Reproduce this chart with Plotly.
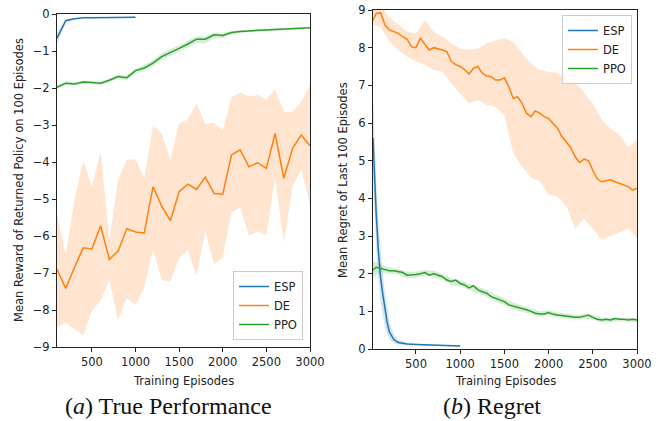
import plotly.graph_objects as go

# ---------------- Data: (a) True Performance ----------------
perf_x_esp = [100, 200, 300, 400, 500, 600, 700, 800, 900, 1000]
perf_esp = [-0.65, -0.18, -0.13, -0.10, -0.10, -0.10, -0.09, -0.09, -0.09, -0.09]
perf_esp_hi = [-0.50, -0.15, -0.11, -0.09, -0.09, -0.09, -0.08, -0.08, -0.08, -0.08]
perf_esp_lo = [-0.82, -0.22, -0.15, -0.11, -0.11, -0.11, -0.10, -0.10, -0.10, -0.10]

perf_x = [100, 200, 300, 400, 500, 600, 700, 800, 900, 1000,
          1100, 1200, 1300, 1400, 1500, 1600, 1700, 1800, 1900, 2000,
          2100, 2200, 2300, 2400, 2500, 2600, 2700, 2800, 2900, 3000]
perf_de = [-6.90, -7.42, -6.85, -6.32, -6.35, -5.73, -6.63, -6.41, -5.80, -5.89,
           -5.92, -4.67, -5.19, -5.59, -4.80, -4.60, -4.74, -4.41, -4.85, -4.87,
           -3.81, -3.67, -4.13, -4.02, -4.17, -3.23, -4.44, -3.63, -3.27, -3.56]
perf_de_hi = [-5.39, -6.51, -5.03, -3.96, -4.67, -3.72, -6.11, -4.49, -3.93, -3.93,
              -4.44, -3.03, -3.23, -3.95, -2.95, -2.85, -2.41, -2.97, -2.94, -3.15,
              -2.25, -2.12, -2.23, -2.19, -2.31, -2.04, -2.64, -2.64, -2.37, -1.92]
perf_de_lo = [-8.47, -8.34, -8.52, -8.68, -8.03, -7.75, -7.19, -8.27, -7.67, -7.87,
              -7.39, -6.36, -7.19, -7.23, -6.60, -6.38, -7.08, -5.86, -6.76, -6.58,
              -5.37, -5.23, -5.99, -5.88, -5.97, -4.44, -6.18, -4.65, -4.20, -5.16]
perf_ppo = [-1.98, -1.87, -1.89, -1.84, -1.85, -1.87, -1.79, -1.69, -1.72, -1.53,
            -1.46, -1.33, -1.15, -1.05, -0.93, -0.81, -0.68, -0.68, -0.56, -0.58,
            -0.50, -0.47, -0.45, -0.44, -0.43, -0.42, -0.41, -0.40, -0.39, -0.37]
perf_ppo_hi = [-1.93, -1.82, -1.85, -1.80, -1.81, -1.83, -1.74, -1.64, -1.66, -1.47,
               -1.38, -1.24, -1.06, -0.96, -0.84, -0.72, -0.60, -0.60, -0.50, -0.52,
               -0.46, -0.44, -0.42, -0.41, -0.40, -0.39, -0.38, -0.37, -0.36, -0.35]
perf_ppo_lo = [-2.03, -1.92, -1.93, -1.88, -1.89, -1.91, -1.84, -1.74, -1.80, -1.60,
               -1.54, -1.42, -1.24, -1.14, -1.02, -0.90, -0.78, -0.80, -0.64, -0.65,
               -0.56, -0.51, -0.49, -0.47, -0.46, -0.45, -0.44, -0.43, -0.42, -0.39]

# ---------------- Data: (b) Regret ----------------
reg_x = [14, 50, 100, 150, 200, 250, 300, 350, 400, 450, 500, 550, 600, 650, 700,
         750, 800, 850, 900, 950, 1000, 1050, 1100, 1150, 1200, 1250, 1300, 1350,
         1400, 1450, 1500, 1550, 1600, 1650, 1700, 1750, 1800, 1850, 1900, 1950,
         2000, 2050, 2100, 2150, 2200, 2250, 2300, 2350, 2400, 2450, 2500, 2550,
         2600, 2650, 2700, 2750, 2800, 2850, 2900, 2950, 3000]
reg_de = [8.73, 8.91, 8.93, 8.60, 8.47, 8.42, 8.38, 8.29, 8.22, 8.02, 8.00, 8.25,
          8.11, 7.94, 8.00, 7.98, 7.94, 7.89, 7.63, 7.55, 7.50, 7.42, 7.30, 7.45,
          7.50, 7.32, 7.25, 7.23, 7.14, 7.14, 7.20, 6.96, 6.65, 6.70, 6.52, 6.26,
          6.17, 6.32, 6.26, 6.17, 6.12, 5.99, 5.86, 5.64, 5.50, 5.35, 5.11, 4.95,
          5.04, 5.00, 4.75, 4.52, 4.44, 4.46, 4.49, 4.44, 4.40, 4.35, 4.31, 4.22, 4.26]
reg_ppo = [2.10, 2.17, 2.14, 2.12, 2.08, 2.08, 2.05, 2.03, 1.96, 1.96, 1.98, 2.00,
           2.03, 1.96, 2.00, 1.96, 1.92, 1.83, 1.79, 1.83, 1.74, 1.70, 1.62, 1.68,
           1.57, 1.52, 1.48, 1.39, 1.35, 1.32, 1.26, 1.17, 1.14, 1.12, 1.08, 1.04,
           1.00, 0.95, 0.93, 0.93, 0.97, 0.92, 0.90, 0.88, 0.88, 0.86, 0.84, 0.84,
           0.86, 0.90, 0.84, 0.79, 0.77, 0.79, 0.77, 0.81, 0.79, 0.79, 0.77, 0.79, 0.77]

band_x = [14, 100, 200, 300, 400, 500, 600, 700, 800, 900, 1000, 1100, 1200, 1300,
          1400, 1500, 1600, 1700, 1800, 1900, 2000, 2100, 2200, 2300, 2400, 2500,
          2600, 2700, 2800, 2900, 3000]
reg_de_hi = [9.30, 9.10, 8.80, 8.60, 8.42, 8.38, 8.73, 8.42, 8.29, 8.11, 7.98, 7.94,
             7.98, 8.11, 8.20, 8.25, 8.16, 7.85, 7.58, 7.41, 7.36, 7.32, 7.15, 7.10,
             6.80, 6.50, 6.10, 5.85, 5.70, 5.35, 5.55]
reg_de_lo = [8.60, 8.55, 8.16, 7.94, 7.76, 7.63, 7.54, 7.41, 7.36, 7.05, 6.79, 6.52,
             6.61, 6.48, 6.43, 6.20, 5.20, 4.84, 4.55, 4.45, 4.10, 4.05, 3.80, 3.20,
             3.45, 3.20, 2.90, 3.00, 3.10, 3.20, 2.95]
reg_ppo_hi = [2.35, 2.25, 2.16, 2.13, 2.05, 2.06, 2.10, 2.08, 2.00, 1.88, 1.82, 1.74,
              1.66, 1.57, 1.44, 1.35, 1.23, 1.16, 1.07, 1.00, 1.03, 0.96, 0.94, 0.90,
              0.92, 0.90, 0.83, 0.83, 0.84, 0.82, 0.82]
reg_ppo_lo = [1.90, 2.03, 2.00, 1.97, 1.87, 1.90, 1.95, 1.92, 1.84, 1.70, 1.66, 1.56,
              1.48, 1.39, 1.26, 1.17, 1.05, 1.00, 0.93, 0.86, 0.91, 0.84, 0.82, 0.78,
              0.80, 0.78, 0.71, 0.71, 0.74, 0.72, 0.72]

reg_x_esp = [14, 30, 50, 75, 100, 125, 150, 175, 200, 250, 300, 400, 500, 600,
             700, 800, 900, 1000]
reg_esp = [5.60, 4.60, 3.60, 2.60, 1.90, 1.45, 1.05, 0.70, 0.45, 0.25, 0.17, 0.13,
           0.12, 0.11, 0.10, 0.10, 0.09, 0.08]
reg_esp_hi = [6.70, 5.50, 4.50, 3.40, 2.60, 2.00, 1.50, 1.05, 0.70, 0.38, 0.23, 0.16,
              0.14, 0.13, 0.12, 0.11, 0.10, 0.09]
reg_esp_lo = [4.50, 3.70, 2.70, 1.90, 1.30, 0.90, 0.60, 0.40, 0.25, 0.15, 0.12, 0.10,
              0.10, 0.09, 0.08, 0.08, 0.07, 0.07]

names = ["ESP", "DE", "PPO"]
colors = ["#1f77b4", "#ff7f0e", "#2ca02c"]
fills = ["rgba(31,119,180,0.2)", "rgba(255,127,14,0.2)", "rgba(44,160,44,0.2)"]

# The page's default 8px body margin is removed by a post script, so the
# figure fills the 667x421 window exactly.
W, H = 667, 421
FONT = "DejaVu Sans"

fig = go.Figure()


def band(x, lo, hi, fill, xa, ya):
    fig.add_trace(go.Scatter(
        x=list(x) + list(x)[::-1], y=list(hi) + list(lo)[::-1],
        fill="toself", fillcolor=fill, line=dict(width=0),
        mode="lines", showlegend=False, hoverinfo="skip", xaxis=xa, yaxis=ya))


def line(x, y, i, xa, ya, leg):
    fig.add_trace(go.Scatter(
        x=x, y=y, mode="lines", name=names[i],
        line=dict(color=colors[i], width=1.5),
        xaxis=xa, yaxis=ya, legend=leg))


# Left panel
band(perf_x_esp, perf_esp_lo, perf_esp_hi, fills[0], "x", "y")
band(perf_x, perf_de_lo, perf_de_hi, fills[1], "x", "y")
band(perf_x, perf_ppo_lo, perf_ppo_hi, fills[2], "x", "y")
line(perf_x_esp, perf_esp, 0, "x", "y", "legend")
line(perf_x, perf_de, 1, "x", "y", "legend")
line(perf_x, perf_ppo, 2, "x", "y", "legend")

# Right panel
band(reg_x_esp, reg_esp_lo, reg_esp_hi, fills[0], "x2", "y2")
band(band_x, reg_de_lo, reg_de_hi, fills[1], "x2", "y2")
band(band_x, reg_ppo_lo, reg_ppo_hi, fills[2], "x2", "y2")
line(reg_x_esp, reg_esp, 0, "x2", "y2", "legend2")
line(reg_x, reg_de, 1, "x2", "y2", "legend2")
line(reg_x, reg_ppo, 2, "x2", "y2", "legend2")


def px_x(p):
    return p / W


def px_y(p):
    return 1 - p / H


axis_common = dict(
    showline=True, linecolor="#222", linewidth=1, mirror=True,
    ticks="outside", ticklen=4, tickcolor="#222", tickwidth=1,
    showgrid=False, zeroline=False, automargin=False,
    ticklabeloverflow="allow",
    tickfont=dict(family=FONT, size=11.5, color="#222"),
)

fig.update_layout(
    width=W, height=H,
    margin=dict(l=0, r=0, t=0, b=0, autoexpand=False),
    paper_bgcolor="white", plot_bgcolor="white",
    font=dict(family=FONT, size=11.5, color="#222"),
    xaxis=dict(domain=[px_x(57), px_x(310)], range=[100, 3000],
               tickvals=[500, 1000, 1500, 2000, 2500, 3000], anchor="y", **axis_common),
    yaxis=dict(domain=[px_y(347), px_y(14)], range=[-9, 0],
               tickvals=list(range(-9, 1)), anchor="x", **axis_common),
    xaxis2=dict(domain=[px_x(373), px_x(637)], range=[14, 3000],
                tickvals=[500, 1000, 1500, 2000, 2500, 3000], anchor="y2", **axis_common),
    yaxis2=dict(domain=[px_y(349), px_y(10)], range=[0, 9],
                tickvals=list(range(0, 10)), anchor="x2", **axis_common),
    legend=dict(x=px_x(303), y=px_y(340), xanchor="right", yanchor="bottom",
                bgcolor="rgba(255,255,255,0.85)", bordercolor="#ccc", borderwidth=1,
                font=dict(family=FONT, size=11.5, color="#222"), tracegroupgap=0),
    legend2=dict(x=px_x(632), y=px_y(15), xanchor="right", yanchor="top",
                 bgcolor="rgba(255,255,255,0.85)", bordercolor="#ccc", borderwidth=1,
                 font=dict(family=FONT, size=11.5, color="#222"), tracegroupgap=0),
    showlegend=True,
)


def note(text, x, y, size=11.5, family=FONT, angle=0, color="#222"):
    return dict(text=text, x=px_x(x), y=px_y(y), xref="paper", yref="paper",
                xanchor="center", yanchor="middle", showarrow=False, textangle=angle,
                font=dict(family=family, size=size, color=color))


ann = [
    note("Training Episodes", 183, 381),
    note("Training Episodes", 505, 381),
    note("Mean Reward of Returned Policy on 100 Episodes", 19, 180, angle=-90),
    note("Mean Regret of Last 100 Episodes", 343, 180, angle=-90),
    note("(<i>a</i>) True Performance", 168, 406, size=24, family="Liberation Serif", color="#111"),
    note("(<i>b</i>) Regret", 492, 406, size=24, family="Liberation Serif", color="#111"),
]
fig.update_layout(annotations=ann)

fig.write_html("out.html",
               config={"displayModeBar": False},
               post_script="document.body.style.margin='0';document.body.style.overflow='hidden';")
